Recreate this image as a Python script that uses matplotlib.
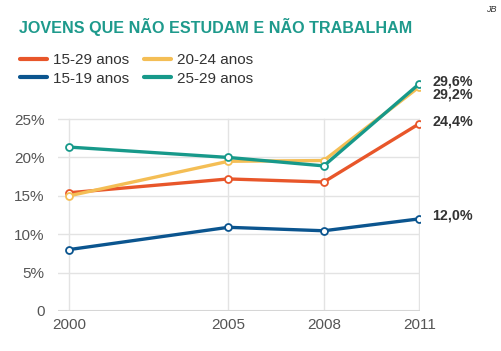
import matplotlib.pyplot as plt
from matplotlib.lines import Line2D

years = [2000, 2005, 2008, 2011]
age_15_29 = [15.4, 17.2, 16.8, 24.4]
age_15_19 = [8.0, 10.9, 10.45, 12.0]
age_20_24 = [15.0, 19.5, 19.6, 29.2]
age_25_29 = [21.35, 20.0, 18.9, 29.6]
end_labels = ["24,4%", "12,0%", "29,2%", "29,6%"]
series_names = ["15-29 anos", "15-19 anos", "20-24 anos", "25-29 anos"]
colors = ["#E8562A", "#0B558F", "#F4BE55", "#17998A"]
ytick_vals = [0, 5, 10, 15, 20, 25]
ytick_labels = ["0", "5%", "10%", "15%", "20%", "25%"]

plt.rcParams['font.family'] = ['Liberation Sans', 'DejaVu Sans']

fig = plt.figure(figsize=(5.02, 3.51), dpi=100)
ax = fig.add_axes([0.1155, 0.114, 0.721, 0.678])

all_series = [age_15_29, age_15_19, age_20_24, age_25_29]
# draw order: blue, orange, yellow, teal on top
for i in [1, 0, 2, 3]:
    ax.plot(years, all_series[i], color=colors[i], lw=2.4, marker='o', ms=5,
            mfc='white', mec=colors[i], mew=1.3, zorder=3 + i, solid_capstyle='round')

ax.set_xlim(1999.65, 2011.02)
ax.set_ylim(0, 31)
ax.set_xticks(years)
ax.set_xticklabels([str(y) for y in years])
ax.set_yticks(ytick_vals)
ax.set_yticklabels(ytick_labels)
ax.tick_params(length=0, labelsize=11, labelcolor='#555555')
ax.tick_params(axis='y', pad=9.5)
ax.tick_params(axis='x', pad=5)

for y in ytick_vals[1:]:
    ax.axhline(y, color='#e3e3e3', lw=1, zorder=1)
for x in years:
    ax.plot([x, x], [0, 25], color='#e3e3e3', lw=1, zorder=1)
ax.axhline(0, color='#d6d6d6', lw=1.5, zorder=2)
for s in ax.spines.values():
    s.set_visible(False)

# end labels
label_y = {"29,6%": 29.9, "29,2%": 28.15, "24,4%": 24.7, "12,0%": 12.4}
for lab in end_labels:
    ax.text(2011.4, label_y[lab], lab, fontsize=10.3, fontweight='bold',
            color='#333333', va='center', ha='left', clip_on=False)

fig.text(0.038, 0.922, "JOVENS QUE NÃO ESTUDAM E NÃO TRABALHAM", fontsize=11.6,
         fontweight='bold', color='#1E9A8C', va='center', ha='left')
fig.text(0.99, 0.985, "JB", fontsize=6.5, style='italic', color='#333333',
         va='top', ha='right')

handles = [Line2D([0], [0], color=c, lw=3, solid_capstyle='round') for c in colors]
leg = fig.legend(handles, series_names, loc='upper left',
                 bbox_to_anchor=(0.012, 0.888), ncol=2, frameon=False,
                 fontsize=11, handlelength=1.75, handletextpad=0.4,
                 columnspacing=1.0, labelspacing=0.3, labelcolor='#333333')

fig.savefig("out.png", dpi=100)
